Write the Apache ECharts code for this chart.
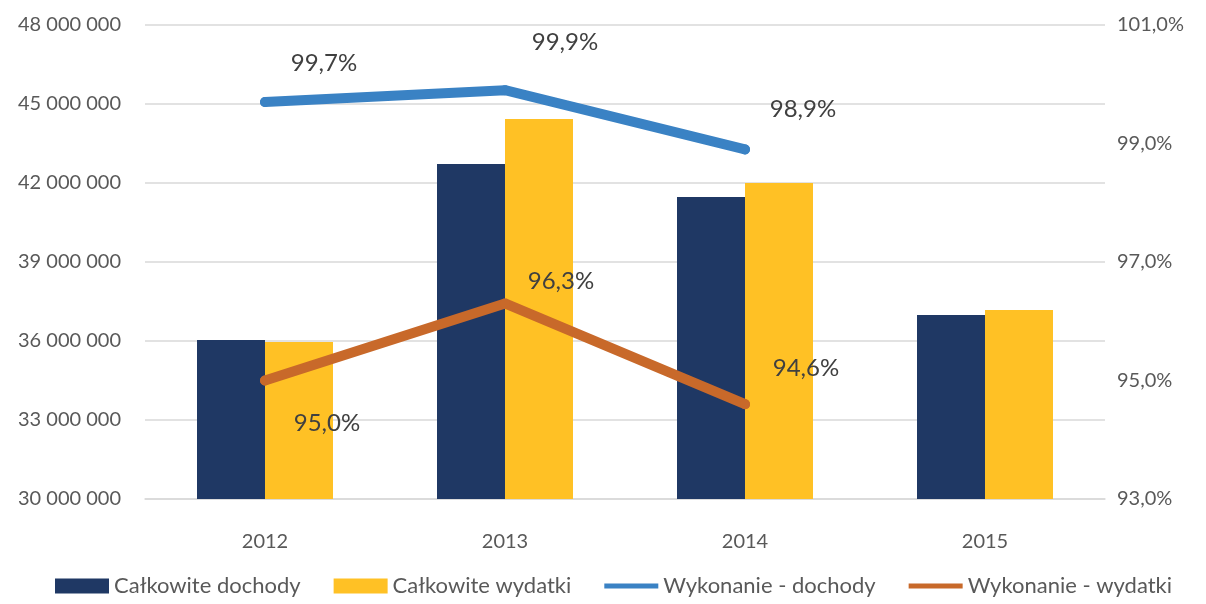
<!DOCTYPE html>
<html>
<head>
<meta charset="utf-8">
<title>Dochody i wydatki</title>
<script src="https://cdn.jsdelivr.net/npm/echarts@6/dist/echarts.min.js"></script>
<style>
  html, body { margin: 0; padding: 0; background: #fff; }
</style>
</head>
<body>
<div id="main" style="width:1206px;height:604px;"></div>
<script type="text/javascript">
// dane
var years = ['2012', '2013', '2014', '2015'];
var dochody = [36040000, 42720000, 41470000, 36990000];
var wydatki = [35960000, 44430000, 42000000, 37180000];
var wykDochody = [99.7, 99.9, 98.9];
var wykWydatki = [95.0, 96.3, 94.6];
// przesuniecia etykiet procentowych
var offDochody = [[59, -39], [60, -48], [58, -40]];
var offWydatki = [[62, 43], [56, -22], [61, -36]];

var font = 'Lato';
var txt = '#595959';

function pct(v) {
    return v.toFixed(1).replace('.', ',') + '%';
}
function withLabels(vals, offs) {
    return vals.map(function (v, i) {
        return { value: v, label: { offset: offs[i] } };
    });
}

var myChart = echarts.init(document.getElementById('main'));

var option = {
    animation: false,
    textStyle: { fontFamily: font },
    grid: { left: 145, right: 101, top: 25, bottom: 105 },
    legend: {
        bottom: 2,
        left: 50,
        itemWidth: 54,
        itemHeight: 15,
        itemGap: 33,
        textStyle: { fontFamily: font, fontSize: 22, color: txt, padding: [0, 0, 0, 0] },
        data: [
            { name: 'Całkowite dochody', icon: 'rect' },
            { name: 'Całkowite wydatki', icon: 'rect' },
            { name: 'Wykonanie - dochody', icon: 'path://M0,0H54V5H0Z' },
            { name: 'Wykonanie - wydatki', icon: 'path://M0,0H54V5H0Z' }
        ]
    },
    xAxis: {
        type: 'category',
        data: years,
        axisTick: { show: false },
        axisLine: { lineStyle: { color: '#D9D9D9', width: 1.5 } },
        axisLabel: { margin: 33, fontSize: 20, color: txt, fontFamily: font }
    },
    yAxis: [{
        type: 'value',
        min: 30000000,
        max: 48000000,
        interval: 3000000,
        axisLine: { show: false },
        axisTick: { show: false },
        splitLine: { lineStyle: { color: '#D9D9D9', width: 1.5 } },
        axisLabel: {
            margin: 24,
            fontSize: 20,
            color: txt,
            fontFamily: font,
            formatter: function (v) {
                return String(v).replace(/\B(?=(\d{3})+(?!\d))/g, ' ');
            }
        }
    }, {
        type: 'value',
        min: 93,
        max: 101,
        interval: 2,
        axisLine: { show: false },
        axisTick: { show: false },
        splitLine: { show: false },
        axisLabel: {
            margin: 12,
            fontSize: 20,
            color: txt,
            fontFamily: font,
            formatter: pct
        }
    }],
    series: [{
        name: 'Całkowite dochody',
        type: 'bar',
        barWidth: 68,
        barGap: '0%',
        itemStyle: { color: '#1F3864' },
        data: dochody
    }, {
        name: 'Całkowite wydatki',
        type: 'bar',
        barWidth: 68,
        itemStyle: { color: '#FFC125' },
        data: wydatki
    }, {
        name: 'Wykonanie - dochody',
        type: 'line',
        yAxisIndex: 1,
        symbol: 'circle',
        symbolSize: 10,
        itemStyle: { color: '#3A82C4' },
        lineStyle: { width: 10, cap: 'round', color: '#3A82C4' },
        label: {
            show: true,
            position: 'inside',
            fontSize: 24,
            color: '#404040',
            fontFamily: font,
            formatter: function (p) { return pct(p.value); }
        },
        data: withLabels(wykDochody, offDochody)
    }, {
        name: 'Wykonanie - wydatki',
        type: 'line',
        yAxisIndex: 1,
        symbol: 'circle',
        symbolSize: 10,
        itemStyle: { color: '#C8692A' },
        lineStyle: { width: 10, cap: 'round', color: '#C8692A' },
        label: {
            show: true,
            position: 'inside',
            fontSize: 24,
            color: '#404040',
            fontFamily: font,
            formatter: function (p) { return pct(p.value); }
        },
        data: withLabels(wykWydatki, offWydatki)
    }]
};

myChart.setOption(option);
</script>
</body>
</html>
